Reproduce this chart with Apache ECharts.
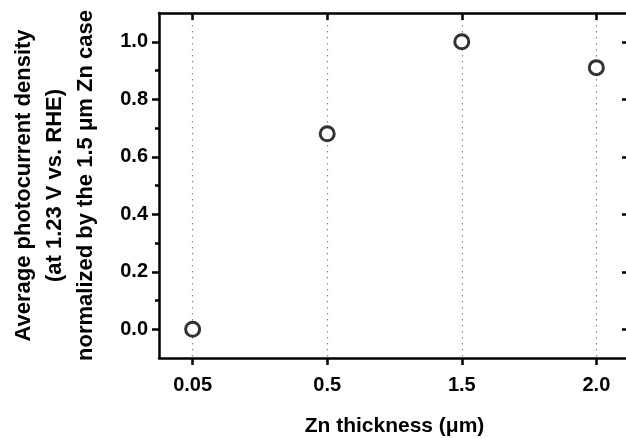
<!DOCTYPE html>
<html>
<head>
<meta charset="utf-8">
<script src="https://cdn.jsdelivr.net/npm/echarts@6/dist/echarts.min.js"></script>
<style>
html, body { margin: 0; padding: 0; background: #fff; }
#chart { width: 626px; height: 438px; }
</style>
</head>
<body>
<div id="chart"></div>
<script>
// Zn thickness categories and normalized photocurrent
var cats = ['0.05', '0.5', '1.5', '2.0'];
var values = [0.0, 0.68, 1.0, 0.91];
var catPos = [1, 2, 3, 4];
var yMajor = [0, 0.2, 0.4, 0.6, 0.8, 1.0];
var yMinor = [0.1, 0.3, 0.5, 0.7, 0.9];

var points = catPos.map(function (p, i) { return [p, values[i]]; });
var font = 'Liberation Sans, Arial, sans-serif';

var myChart = echarts.init(document.getElementById('chart'));

var lineStyle = { color: '#000', width: 2.5 };

var option = {
    animation: false,
    backgroundColor: '#fff',
    grid: { left: 159, top: 13, right: -4, bottom: 80, containLabel: false, outerBoundsMode: 'none' },
    xAxis: [
        {
            type: 'value', position: 'bottom', min: 0.75, max: 4.25,
            name: 'Zn thickness (\u03bcm)', nameLocation: 'middle', nameGap: 58,
            nameTextStyle: { fontFamily: font, fontWeight: 'bold', fontSize: 21, color: '#000' },
            axisLine: { onZero: false, lineStyle: lineStyle },
            axisTick: { customValues: catPos, length: 7, lineStyle: lineStyle },
            axisLabel: {
                customValues: catPos, margin: 17,
                fontFamily: font, fontWeight: 'bold', fontSize: 20, color: '#000',
                formatter: function (v) { return cats[Math.round(v) - 1]; }
            },
            splitLine: { show: true, lineStyle: { color: '#888', type: [1.5, 4.5], width: 1.2 } }
        },
        {
            type: 'value', position: 'top', min: 0.75, max: 4.25,
            axisLine: { onZero: false, lineStyle: lineStyle },
            axisTick: { customValues: catPos, inside: true, length: 7, lineStyle: lineStyle },
            axisLabel: { show: false },
            splitLine: { show: false }
        }
    ],
    yAxis: [
        {
            type: 'value', position: 'left', min: -0.1, max: 1.1,
            name: 'Average photocurrent density\n(at 1.23 V vs. RHE)\nnormalized by the 1.5 \u03bcm Zn case',
            nameLocation: 'middle', nameGap: 58, nameRotate: 90,
            nameTextStyle: { fontFamily: font, fontWeight: 'bold', fontSize: 22, color: '#000', lineHeight: 31 },
            axisLine: { onZero: false, lineStyle: lineStyle },
            axisTick: { customValues: yMajor, length: 7, lineStyle: lineStyle },
            axisLabel: {
                customValues: yMajor, margin: 11,
                fontFamily: font, fontWeight: 'bold', fontSize: 20, color: '#000',
                formatter: function (v) { return v.toFixed(1); }
            },
            splitLine: { show: false }
        },
        {
            type: 'value', position: 'left', min: -0.1, max: 1.1,
            axisLine: { show: false, onZero: false },
            axisTick: { customValues: yMinor, length: 4, lineStyle: lineStyle },
            axisLabel: { show: false },
            splitLine: { show: false }
        },
        {
            type: 'value', position: 'right', min: -0.1, max: 1.1,
            axisLine: { onZero: false, lineStyle: lineStyle },
            axisTick: { customValues: yMajor, inside: true, length: 8, lineStyle: lineStyle },
            axisLabel: { show: false },
            splitLine: { show: false }
        },
        {
            type: 'value', position: 'right', min: -0.1, max: 1.1,
            axisLine: { show: false, onZero: false },
            axisTick: { customValues: yMinor, inside: true, length: 4, lineStyle: lineStyle },
            axisLabel: { show: false },
            splitLine: { show: false }
        }
    ],
    series: [
        {
            type: 'scatter',
            xAxisIndex: 0,
            yAxisIndex: 0,
            symbol: 'circle',
            symbolSize: 14,
            itemStyle: { color: '#fff', borderColor: '#000', borderWidth: 3 },
            data: points,
            z: 5
        }
    ]
};
myChart.setOption(option);
</script>
</body>
</html>
